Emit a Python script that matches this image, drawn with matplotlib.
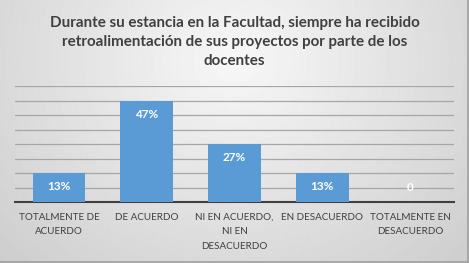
import numpy as np
import matplotlib.pyplot as plt

categories = ["TOTALMENTE DE\nACUERDO", "DE ACUERDO", "NI EN ACUERDO,\nNI EN\nDESACUERDO",
              "EN DESACUERDO", "TOTALMENTE EN\nDESACUERDO"]
counts = [2, 7, 4, 2, 0]
labels = ["13%", "47%", "27%", "13%", "0"]
title = ("Durante su estancia en la Facultad, siempre ha recibido\n"
         "retroalimentación de sus proyectos por parte de los\ndocentes")

plt.rcParams["font.family"] = ["Lato", "DejaVu Sans"]

fig = plt.figure(figsize=(4.69, 2.63), dpi=100)

# radial gray background
bg = fig.add_axes([0, 0, 1, 1], zorder=-10)
yy, xx = np.mgrid[0:263, 0:469]
r = np.sqrt(((xx - 234) / 300.0) ** 2 + ((yy - 60) / 260.0) ** 2)
shade = np.clip(0.97 - 0.15 * r, 0.80, 0.97)
bg.imshow(shade, cmap="gray", vmin=0, vmax=1, aspect="auto", extent=[0, 1, 0, 1])
bg.plot([0.998, 0.998], [0, 1], color="#a0a0a0", lw=1.2)
bg.plot([0, 1], [0.003, 0.003], color="#a0a0a0", lw=1.2)
bg.set_xlim(0, 1)
bg.set_ylim(0, 1)
bg.axis("off")

ax = fig.add_axes([15 / 469, 1 - 202 / 263, 439 / 469, 116 / 263])
ax.patch.set_alpha(0)
x = np.arange(len(categories))
bars = ax.bar(x, counts, width=0.6, color="#5b9bd5", zorder=3)
ax.set_ylim(0, 8)
ax.set_xlim(-0.5, len(categories) - 0.5)
ax.set_yticks(range(1, 9))
ax.yaxis.grid(True, color="#a6a6a6", lw=0.9, zorder=0)
ax.tick_params(axis="y", length=0, labelleft=False)
ax.tick_params(axis="x", length=0, pad=8)
ax.set_xticks(x)
ax.set_xticklabels(categories, fontsize=7.1, color="#404040", linespacing=1.75)
for side in ["top", "right", "left"]:
    ax.spines[side].set_visible(False)
ax.spines["bottom"].set_color("#404040")
ax.spines["bottom"].set_linewidth(1.5)

for xi, c, lab in zip(x, counts, labels):
    if c > 0:
        ax.text(xi, c - 0.95, lab, ha="center", va="center", color="white",
                fontsize=8.5, fontweight="bold", zorder=4)
    else:
        ax.text(xi, 1.0, lab, ha="center", va="center", color="white",
                fontsize=8.5, fontweight="bold", zorder=4)

fig.text(0.5, 1 - 42 / 263, title, ha="center", va="center", fontsize=10.9,
         fontweight="bold", color="#404040", linespacing=1.45)

fig.savefig("out.png", dpi=100)
